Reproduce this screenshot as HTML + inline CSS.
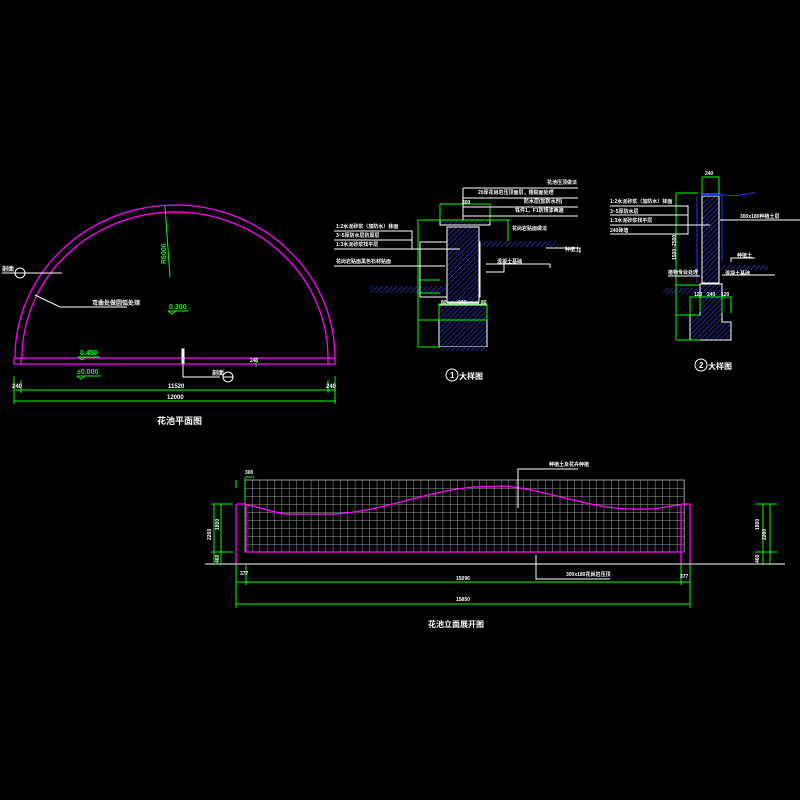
<!DOCTYPE html>
<html><head><meta charset="utf-8"><style>html,body{margin:0;background:#000}svg{display:block}text{font-family:"Liberation Sans","Noto Sans CJK SC",sans-serif;fill:#fff;font-weight:bold}</style></head><body>
<svg width="800" height="800" viewBox="0 0 800 800" xmlns="http://www.w3.org/2000/svg">
<defs>
<pattern id="h" width="3.5" height="3.5" patternUnits="userSpaceOnUse" patternTransform="rotate(45)"><rect width="3.5" height="3.5" fill="#000"/><line x1="0" y1="0" x2="0" y2="3.5" stroke="#3344ff" stroke-width="1.2"/></pattern>
<pattern id="g" width="7.32" height="8" patternUnits="userSpaceOnUse" x="245" y="480"><path d="M0 0V8M0 0H7.32" stroke="#9a9a9a" stroke-width="1" fill="none"/></pattern>
</defs>
<!-- PLAN -->
<g fill="none" stroke="#ff00ff" stroke-width="1.3">
<path d="M15 358 A160 153 0 0 1 335 358"/>
<path d="M22 358 A153 146 0 0 1 328 358"/>
<rect x="14" y="358" width="321" height="6"/>
<line x1="21" y1="358" x2="21" y2="364"/><line x1="328" y1="358" x2="328" y2="364"/>
</g>
<g stroke="#00ff00" stroke-width="1" fill="none">
<path d="M165 206 L170 277"/>
<line x1="14" y1="390" x2="336" y2="390"/><line x1="14" y1="401" x2="336" y2="401"/>
<line x1="14" y1="376" x2="14" y2="404"/><line x1="21" y1="380" x2="21" y2="393"/><line x1="328" y1="380" x2="328" y2="393"/><line x1="335" y1="376" x2="335" y2="404"/>
<line x1="168" y1="311" x2="188" y2="311"/><path d="M168 311 l4 3 l4 -3"/>
<line x1="78" y1="357" x2="100" y2="357"/><path d="M78 357 l4 3 l4 -3"/>
<line x1="77" y1="376" x2="101" y2="376"/><path d="M77 376 l4 3 l4 -3"/>
<line x1="256" y1="357" x2="256" y2="367"/>
</g>
<g fill="#00ff00" style="font-size:7px"><text x="169" y="309" style="fill:#0f0">0.300</text><text x="80" y="355" style="fill:#0f0">0.450</text><text x="77" y="374" style="fill:#0f0">±0.000</text>
<text transform="translate(166,264) rotate(-90)" style="fill:#0f0">R6000</text></g>
<g stroke="#fff" stroke-width="1" fill="none">
<line x1="2" y1="273" x2="62" y2="273"/><circle cx="20" cy="273" r="5"/><line x1="15" y1="273" x2="25" y2="273"/>
<path d="M35 295 L60 307 L127 307"/>
<rect x="182" y="349" width="2" height="14" fill="#fff"/>
<path d="M183 363 L183 377 L220 377"/><circle cx="228" cy="377" r="5"/><line x1="223" y1="377" x2="233" y2="377"/>
</g>
<g style="font-size:6px"><text x="2" y="271">剖面</text><text x="92" y="305">弯曲处做圆弧处理</text><text x="212" y="375">剖面</text>
<text x="12" y="388">240</text><text x="168" y="388">11520</text><text x="326" y="388">240</text><text x="167" y="399">12000</text>
<text x="250" y="362" style="font-size:5px">240</text></g>
<text x="157" y="424" style="font-size:9px">花池平面图</text>
<!-- DETAIL 1 -->
<rect x="370" y="286" width="76" height="7" fill="url(#h)"/>
<rect x="482" y="241" width="76" height="6" fill="url(#h)"/>
<rect x="420" y="242" width="60" height="55" fill="none" stroke="#fff"/>
<rect x="447" y="227" width="32" height="75" fill="url(#h)" stroke="#fff"/>
<rect x="447" y="302" width="32" height="3" fill="#fff"/>
<path d="M439 305 H487 V347 H439Z" fill="url(#h)" stroke="#fff"/>
<rect x="440" y="220" width="50" height="5" fill="url(#h)" stroke="#fff"/>
<rect x="439" y="347" width="48" height="4" fill="url(#h)"/>
<g stroke="#00ff00" fill="none">
<rect x="440" y="204" width="50" height="16"/>
<line x1="418" y1="220" x2="418" y2="347"/><line x1="418" y1="220" x2="510" y2="220"/><line x1="418" y1="280" x2="440" y2="280"/><line x1="418" y1="293" x2="440" y2="293"/><line x1="418" y1="320" x2="440" y2="320"/><line x1="418" y1="347" x2="440" y2="347"/>
<rect x="439" y="304" width="48" height="16"/><line x1="508" y1="220" x2="508" y2="241"/>
</g>
<g stroke="#fff" fill="none">
<path d="M463 188 H578 M463 198 H578 M463 207 H578 M463 216 H578 M463 188 V220"/>
<path d="M334 231 H412 V249 M334 240 H412 M334 249 H460 M334 266 H445 M486 264 H550 M486 272 H504 V260 M550 264 V268 M546 248 H580 V253"/>
<circle cx="452" cy="375" r="6"/>
</g>
<g style="font-size:5px"><text x="547" y="184">花池压顶做法</text><text x="478" y="194">20厚花岗岩压顶面层，粗糙面处理</text><text x="524" y="203">防水层(加防水剂)</text><text x="515" y="212">铁件1，F1防锈漆两遍</text>
<text x="336" y="228">1:2水泥砂浆（加防水）抹面</text><text x="336" y="237">3~5厚防水层防腐层</text><text x="336" y="246">1:3水泥砂浆找平层</text><text x="336" y="263">花岗岩贴面黑色石材贴面</text>
<text x="512" y="230">花岗岩贴面做法</text><text x="497" y="263">混凝土基础</text><text x="565" y="251">种植土</text>
<text x="441" y="304">80</text><text x="458" y="304">240</text><text x="481" y="304">80</text><text x="462" y="204">300</text></g>
<text x="450" y="378" style="font-size:8px">1</text><text x="459" y="379" style="font-size:8px">大样图</text>
<!-- DETAIL 2 -->
<rect x="663" y="288" width="40" height="6" fill="url(#h)"/>
<rect x="720" y="265" width="48" height="5" fill="url(#h)"/>
<rect x="702" y="196" width="17" height="87" fill="url(#h)" stroke="#fff"/>
<rect x="701" y="193" width="19" height="3" fill="#2233ff"/>
<path d="M700 284 H722 V322 H731 V340 H690 V315 H700Z" fill="url(#h)" stroke="#fff"/>
<path d="M719 196 H722 V262 M697 196 V283" stroke="#2233ff" fill="none"/>
<path d="M720 194 Q735 198 755 192" stroke="#2233ff" fill="none"/>
<g stroke="#00ff00" fill="none">
<path d="M702 177 H719 M702 177 V194 M719 177 V194 M676 193 H698 M676 193 V340 M676 285 H700 M676 315 H700 M676 340 H700 M690 297 H731 M690 297 V315 M700 297 V312 M722 297 V313 M731 297 V313"/>
</g>
<g stroke="#fff" fill="none"><path d="M610 206 H688 V234 H610 M610 215 H688 M610 225 H710 M720 220 H800 M668 276 H700 M731 262 V258 H755 M722 275 H775"/><circle cx="701" cy="365" r="6"/></g>
<g style="font-size:5px"><text x="610" y="203">1:2水泥砂浆（加防水）抹面</text><text x="610" y="213">3~5厚防水层</text><text x="610" y="222">1:3水泥砂浆找平层</text><text x="610" y="232">240砖墙</text>
<text x="740" y="218">300x180种植土层</text><text x="737" y="257">种植土</text><text x="668" y="274">植物专业处理</text><text x="725" y="275">混凝土基础</text><text x="705" y="175">240</text>
<text transform="translate(676,260) rotate(-90)">1500~2500</text><text x="694" y="296">120</text><text x="707" y="296">240</text><text x="721" y="296">120</text></g>
<text x="699" y="368" style="font-size:8px">2</text><text x="708" y="369" style="font-size:8px">大样图</text>
<!-- ELEVATION -->
<rect x="245" y="480" width="439.2" height="72" fill="url(#g)" stroke="#9a9a9a" stroke-width="1"/>
<g stroke="#ff00ff" stroke-width="1.3" fill="none">
<path d="M236 504 V564 M246 504 V552 M236 504 H246 M245 552 H684 M681 504 V564 M690 504 V564 M681 504 H690"/>
<path d="M247 505 C265 508 275 514 290 514 L335 514 C380 512 430 490 475 487 L505 486 C545 490 590 508 628 509 L652 509 C665 508 672 505 680 505"/>
</g>
<line x1="205" y1="564" x2="785" y2="564" stroke="#fff"/>
<g stroke="#00ff00" fill="none">
<path d="M236 582 H690 M236 604 H690 M236 564 V608 M246 564 V585 M681 564 V585 M690 564 V608"/>
<path d="M214 504 V565 M221 504 V565 M211 504 H233 M211 552 H233 M763 504 V565 M770 504 V565 M755 504 H777 M755 552 H777 M245 478 V500 M245 477 H254 M236 480 V488"/>
</g>
<g stroke="#fff" fill="none"><path d="M518 508 V469 H578 M536 555 V579 H610"/></g>
<g style="font-size:5px"><text x="549" y="466">种植土及花卉种植</text><text x="566" y="576">300x180花岗岩压顶</text>
<text x="240" y="575">377</text><text x="456" y="580">15096</text><text x="680" y="578">377</text><text x="456" y="601">15850</text><text x="245" y="474">300</text>
<text transform="translate(211,540) rotate(-90)">2260</text><text transform="translate(219,530) rotate(-90)">1800</text><text transform="translate(219,563) rotate(-90)">460</text>
<text transform="translate(766,540) rotate(-90)">2260</text><text transform="translate(759,530) rotate(-90)">1800</text><text transform="translate(759,563) rotate(-90)">460</text></g>
<text x="428" y="627" style="font-size:8px">花池立面展开图</text>
</svg>
</body></html>
